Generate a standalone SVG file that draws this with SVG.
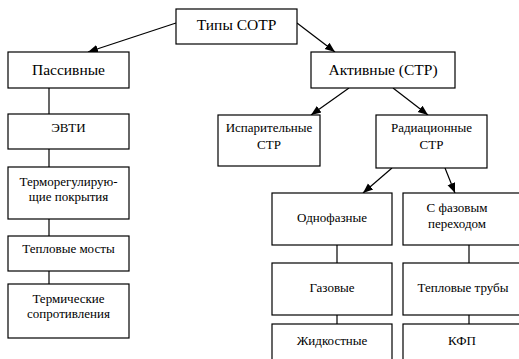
<svg xmlns="http://www.w3.org/2000/svg" width="519" height="359" viewBox="0 0 519 359">
<style>
rect{fill:#fff;stroke:#000;stroke-width:1.2}
text{font-size:13px;text-anchor:middle;fill:#000}
.big{font-size:15.5px}
.c line{stroke:#000;stroke-width:1.2}
</style>
<defs>
<marker id="ah" viewBox="0 0 10 10" refX="10" refY="5" markerWidth="10" markerHeight="10" markerUnits="userSpaceOnUse" orient="auto">
<path d="M0,1 L10,5 L0,9 z" fill="#000"/>
</marker>
</defs>
<rect width="519" height="359" fill="#fff" style="stroke:none"/>
<g class="c">
<line x1="176" y1="23" x2="88" y2="52" marker-end="url(#ah)"/>
<line x1="297" y1="23" x2="335" y2="52" marker-end="url(#ah)"/>
<line x1="349" y1="88" x2="311" y2="115" marker-end="url(#ah)"/>
<line x1="393" y1="88" x2="428" y2="115" marker-end="url(#ah)"/>
<line x1="392" y1="168" x2="363" y2="193" marker-end="url(#ah)"/>
<line x1="445" y1="168" x2="455" y2="193" marker-end="url(#ah)"/>
<line x1="49" y1="88" x2="49" y2="114"/>
<line x1="49" y1="149" x2="49" y2="167"/>
<line x1="49" y1="219" x2="49" y2="236"/>
<line x1="49" y1="271" x2="49" y2="284"/>
<line x1="337" y1="245" x2="337" y2="263"/>
<line x1="469" y1="245" x2="469" y2="263"/>
<line x1="337" y1="315" x2="337" y2="324"/>
<line x1="469" y1="315" x2="469" y2="324"/>
</g>
<g font-family="Liberation Serif, serif">
<g id="n-types"><rect x="176" y="9" width="121" height="35"/><text class="big" x="236.5" y="30">Типы СОТР</text></g>
<g id="n-passive"><rect x="8" y="52" width="121" height="36"/><text class="big" x="68.5" y="75">Пассивные</text></g>
<g id="n-active"><rect x="311" y="52" width="144" height="36"/><text class="big" x="383" y="75">Активные (СТР)</text></g>
<g id="n-evti"><rect x="8" y="114" width="121" height="35"/><text x="68.5" y="132">ЭВТИ</text></g>
<g id="n-coat"><rect x="8" y="167" width="121" height="52"/><text x="68.5" y="186">Терморегулирую-</text><text x="68.5" y="201">щие покрытия</text></g>
<g id="n-bridges"><rect x="8" y="236" width="121" height="35"/><text x="68.5" y="253">Тепловые мосты</text></g>
<g id="n-resist"><rect x="8" y="284" width="121" height="54"/><text x="68.5" y="303">Термические</text><text x="68.5" y="318">сопротивления</text></g>
<g id="n-evap"><rect x="218" y="115" width="102" height="51"/><text x="269" y="132">Испарительные</text><text x="269" y="149">СТР</text></g>
<g id="n-rad"><rect x="376" y="115" width="111" height="53"/><text x="431.5" y="132">Радиационные</text><text x="431.5" y="149">СТР</text></g>
<g id="n-single"><rect x="272" y="193" width="120" height="52"/><text x="332" y="222">Однофазные</text></g>
<g id="n-phase"><rect x="403" y="193" width="122" height="52"/><text x="457" y="212">С фазовым</text><text x="457" y="228">переходом</text></g>
<g id="n-gas"><rect x="272" y="263" width="120" height="52"/><text x="332" y="292">Газовые</text></g>
<g id="n-pipes"><rect x="403" y="263" width="122" height="52"/><text x="463" y="292">Тепловые трубы</text></g>
<g id="n-liquid"><rect x="272" y="324" width="120" height="50"/><text x="332" y="345">Жидкостные</text></g>
<g id="n-kfp"><rect x="403" y="324" width="122" height="50"/><text x="462" y="345">КФП</text></g>
</g>
</svg>
